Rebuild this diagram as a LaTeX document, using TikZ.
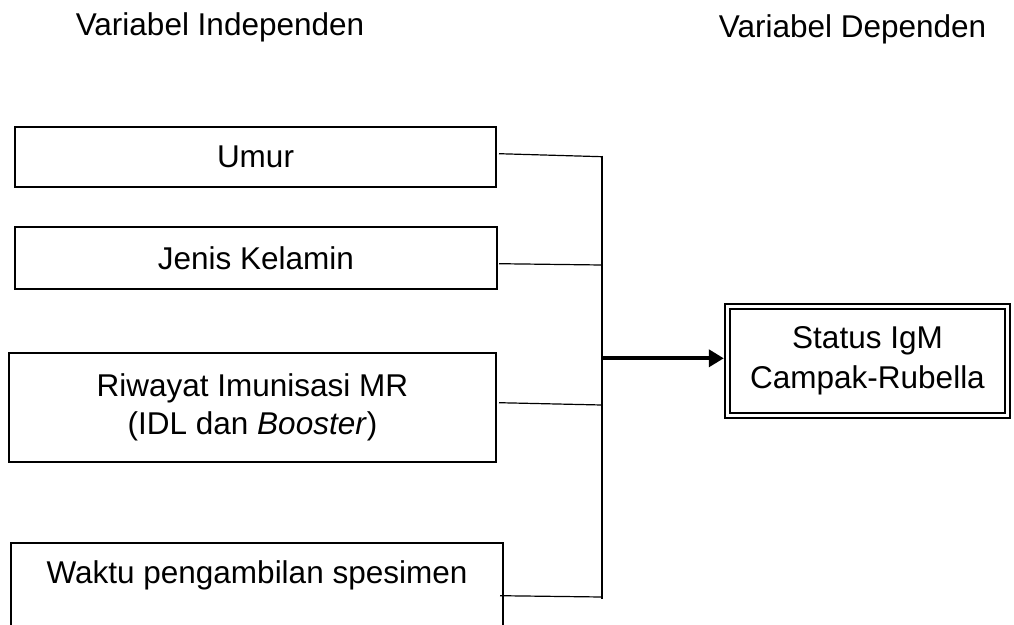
\documentclass[tikz,border=0pt]{standalone}
\usepackage{fontspec}
\setmainfont{Liberation Sans}
\usetikzlibrary{arrows.meta,calc}
\begin{document}
\begin{tikzpicture}[x=1pt,y=-1pt,
  txt/.style={font=\fontsize{31.5}{38}\selectfont},
  varbox/.style={txt, draw, line width=1.8pt, outer sep=0pt, inner sep=0pt, align=center},
  depbox/.style={draw, double, double distance=3pt, line width=2.2pt, outer sep=3.7pt,
    inner sep=0pt, align=center, font=\fontsize{31.5}{40}\selectfont},
  header/.style={txt, inner sep=0pt, anchor=base},
  conn/.style={line width=1.2pt},
  busline/.style={line width=2.7pt},
  mainarrow/.style={line width=3.8pt, -{Triangle[length=15pt,width=17pt]}}]
\clip (0,0) rectangle (1014,624);
\fill[white] (0,0) rectangle (1014,624);

% headers
\node[header] (hind) at (220,35) {Variabel Independen};
\node[header] (hdep) at (852.5,37) {Variabel Dependen};

% independent variable boxes
\node[varbox, minimum width=481pt, minimum height=60pt] (umur) at (255.5,157) {Umur};
\node[varbox, minimum width=482pt, minimum height=62pt] (jenis) at (256,258) {Jenis Kelamin};
\node[varbox, minimum width=487pt, minimum height=109pt] (riwayat) at (252.5,407.5)
  {Riwayat Imunisasi MR\\(IDL dan \textit{Booster})};
\node[varbox, anchor=north west, minimum width=492pt, text height=23pt, text depth=55pt,
  inner ysep=17pt] (waktu) at (11,543) {Waktu pengambilan spesimen};

% dependent variable box
\node[depbox, minimum width=280pt, minimum height=109pt] (status) at (867.5,361)
  {Status IgM\\Campak-Rubella};

% bus coordinates
\coordinate (bt) at (602,155.5);
\coordinate (bu) at (602,156.7);
\coordinate (bj) at (602,265);
\coordinate (br) at (602,405);
\coordinate (bw) at (602,597);
\coordinate (ba) at (602,358.3);
\coordinate (bb) at (602,598.5);

% connectors
\draw[conn] ([shift={(3,-3.3)}]umur.east) -- (bu);
\draw[conn] ([shift={(2,5.7)}]jenis.east) -- (bj);
\draw[conn] ([shift={(3,-4.8)}]riwayat.east) -- (br);
\draw[conn] ([shift={(-3,-3.3)}]waktu.east) -- (bw);
\draw[busline] (bt) -- (bb);
\draw[mainarrow] (ba) -- (ba -| status.west);
\end{tikzpicture}
\end{document}
